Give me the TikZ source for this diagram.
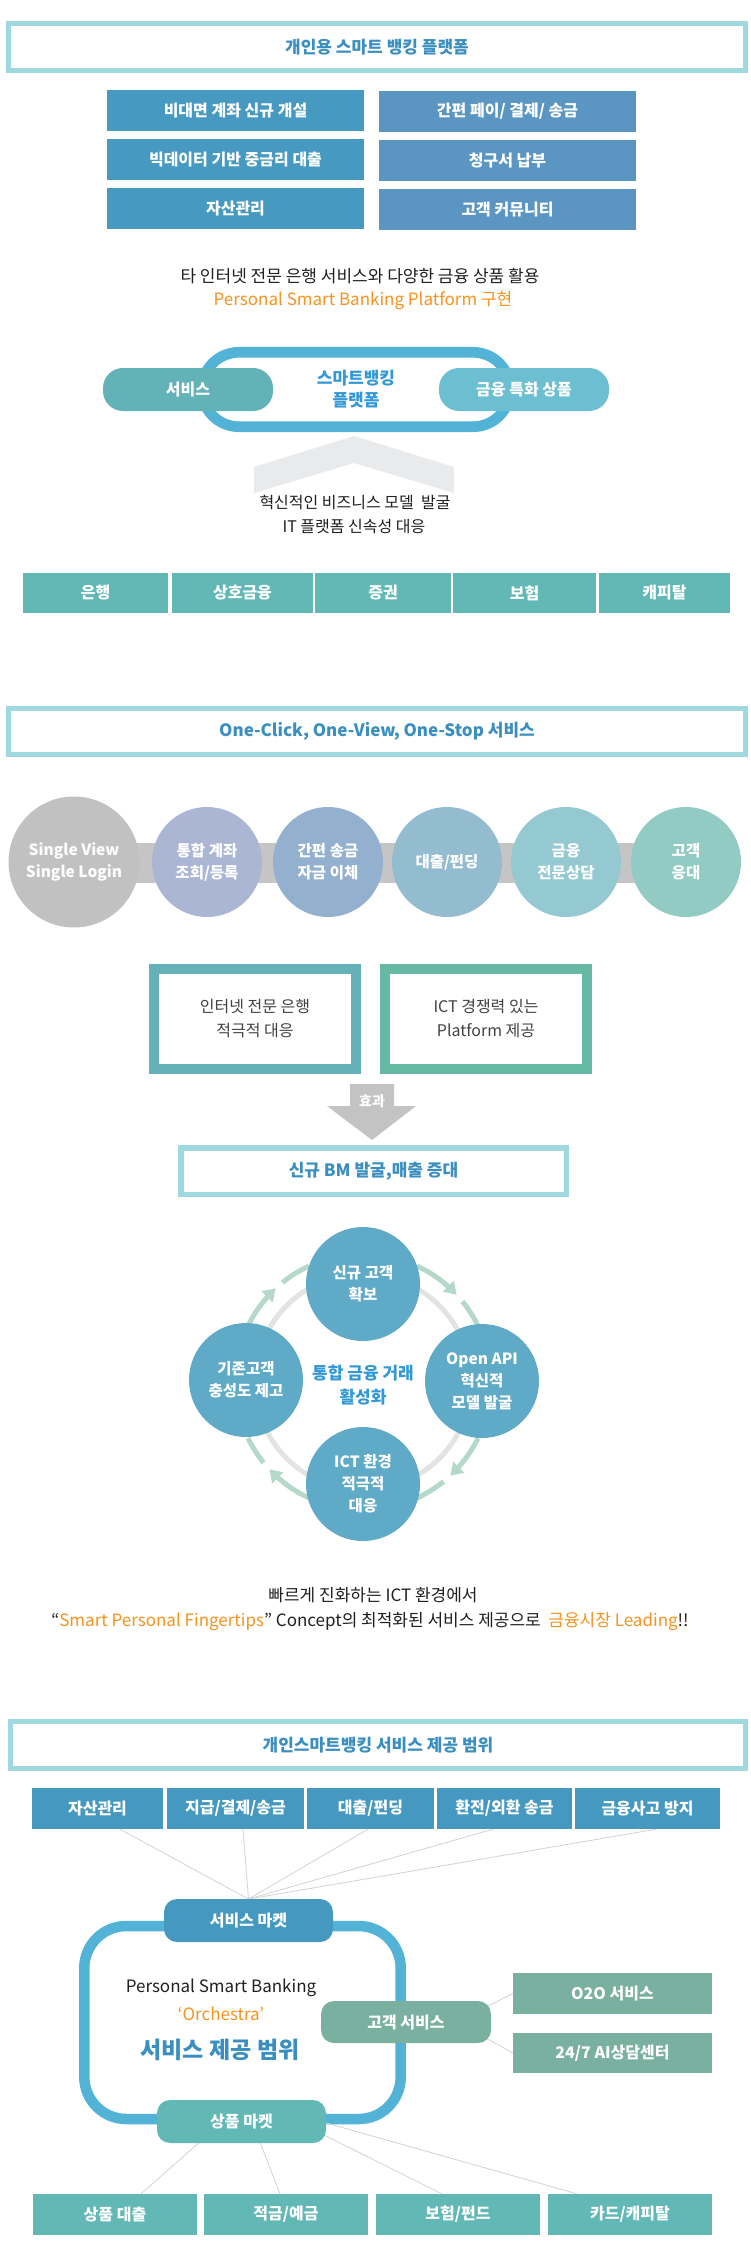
\documentclass[tikz,border=0pt]{standalone}
\usepackage{fontspec}
\setmainfont{Noto Sans CJK KR}
\usetikzlibrary{arrows.meta,calc}
\definecolor{tborder}{HTML}{9FD9DF}
\definecolor{ttext}{HTML}{3B8FC0}
\definecolor{boxA}{HTML}{4699C0}
\definecolor{boxB}{HTML}{5B96C3}
\definecolor{orng}{HTML}{F7931E}
\definecolor{ringc}{HTML}{53B3D6}
\definecolor{pillA}{HTML}{63B2B8}
\definecolor{pillB}{HTML}{6CBFD1}
\definecolor{chev}{HTML}{E9EAEC}
\definecolor{tealc}{HTML}{62B8B5}
\definecolor{cA}{HTML}{C1C1C1}
\definecolor{cB}{HTML}{AAB6D3}
\definecolor{cC}{HTML}{93B1CF}
\definecolor{cD}{HTML}{93BCD0}
\definecolor{cE}{HTML}{94C9D2}
\definecolor{cF}{HTML}{91CBC3}
\definecolor{barc}{HTML}{C5C5C5}
\definecolor{frA}{HTML}{64B1B8}
\definecolor{frB}{HTML}{65B9A5}
\definecolor{arrc}{HTML}{C3C3C3}
\definecolor{cyc}{HTML}{5FAAC7}
\definecolor{grn}{HTML}{B4D9C8}
\definecolor{gring}{HTML}{E3E3E3}
\definecolor{ctext}{HTML}{3399D6}
\definecolor{sage}{HTML}{7AB0A0}
\definecolor{dark}{HTML}{231F20}
\definecolor{lnc}{HTML}{D3D3D3}
\definecolor{svcb}{HTML}{4599C1}
\begin{document}
\begin{tikzpicture}[x=1pt,y=-1pt,
  titlebox/.style={draw=tborder, line width=5pt, fill=white, inner sep=0pt, text=ttext, font=\fontsize{17}{20}\selectfont\bfseries},
  cell/.style={fill=#1, inner sep=0pt, text=white, font=\fontsize{16}{20}\selectfont\bfseries},
  pill/.style={fill=#1, rounded corners=20pt, inner sep=0pt, text=white, font=\fontsize{16}{20}\selectfont\bfseries},
  mpill/.style={fill=#1, rounded corners=13pt, inner sep=0pt, text=white, font=\fontsize{16}{20}\selectfont\bfseries},
  circ/.style={circle, fill=#1, inner sep=0pt, text=white, align=center, font=\fontsize{15.5}{22}\selectfont\bfseries},
  plain/.style={text=dark, inner sep=0pt, font=\fontsize{17}{20}\selectfont},
  frame/.style={draw=#1, line width=10pt, fill=white, inner sep=0pt, align=center, text=dark!85, font=\fontsize{16}{24}\selectfont, minimum width=202pt, minimum height=100pt},
  conn/.style={draw=lnc, line width=0.8pt},
  garc/.style={draw=grn, line width=5pt},
  garrow/.style={draw=grn, line width=5pt, -{Triangle[length=12pt,width=15pt]}}
]
\useasboundingbox (0,0) rectangle (750,2266);
\fill[white] (0,0) rectangle (750,2266);

% ---------------- Section 1 ----------------
\node[titlebox, minimum width=737pt, minimum height=47pt] (t1) at (377,47) {개인용 스마트 뱅킹 플랫폼};

\node[cell=boxA, minimum width=257pt, minimum height=41pt] (a1) at (235.5,110.5) {비대면 계좌 신규 개설};
\node[cell=boxA, minimum width=257pt, minimum height=41pt] (a2) at (235.5,159.5) {빅데이터 기반 중금리 대출};
\node[cell=boxA, minimum width=257pt, minimum height=41pt] (a3) at (235.5,208.5) {자산관리};
\node[cell=boxB, minimum width=257pt, minimum height=41pt] (b1) at (507.5,111.5) {간편 페이/ 결제/ 송금};
\node[cell=boxB, minimum width=257pt, minimum height=41pt] (b2) at (507.5,160.5) {청구서 납부};
\node[cell=boxB, minimum width=257pt, minimum height=41pt] (b3) at (507.5,209.5) {고객 커뮤니티};

\node[plain] (s1) at (360,276) {타 인터넷 전문 은행 서비스와 다양한 금융 상품 활용};
\node[plain, text=orng] (s2) at (363,301) {Personal Smart Banking Platform 구현};

\node[draw=ringc, line width=10.7pt, minimum width=308.4pt, minimum height=74.4pt, rounded corners=37.2pt, inner sep=0pt, align=center, text=ctext, font=\fontsize{17}{22}\selectfont\bfseries] (ring) at (356,389.5) {스마트뱅킹\\플랫폼};
\node[pill=pillA, minimum width=170pt, minimum height=43pt] (p1) at (188,389.5) {서비스};
\node[pill=pillB, minimum width=170pt, minimum height=43pt] (p2) at (524,389.5) {금융 특화 상품};

\fill[chev] (254,467) -- (354,436) -- (454,467) -- (454,493) -- (354,463) -- (254,493) -- cycle;
\node[plain, font=\fontsize{16}{20}\selectfont] (s3) at (355,502) {혁신적인 비즈니스 모델\ \ 발굴};
\node[plain, font=\fontsize{16}{20}\selectfont] (s4) at (354,527) {IT 플랫폼 신속성 대응};

\node[cell=tealc, minimum width=145pt, minimum height=40pt] (r1) at (95.5,593) {은행};
\node[cell=tealc, minimum width=141pt, minimum height=40pt] (r2) at (242.5,593) {상호금융};
\node[cell=tealc, minimum width=136pt, minimum height=40pt] (r3) at (383,593) {증권};
\node[cell=tealc, minimum width=143pt, minimum height=40pt] (r4) at (524.5,593) {보험};
\node[cell=tealc, minimum width=131pt, minimum height=40pt] (r5) at (664.5,593) {캐피탈};

% ---------------- Section 2 ----------------
\node[titlebox, minimum width=737pt, minimum height=46pt] (t2) at (377,731.5) {One-Click, One-View, One-Stop 서비스};

\fill[barc] (74,843) rectangle (686,883);
\node[circ=cA, minimum size=131pt] (o1) at (74,862) {Single View\\Single Login};
\node[circ=cB, minimum size=110pt] (o2) at (207,862) {통합 계좌\\조회/등록};
\node[circ=cC, minimum size=110pt] (o3) at (328,862) {간편 송금\\자금 이체};
\node[circ=cD, minimum size=110pt] (o4) at (447,862) {대출/펀딩};
\node[circ=cE, minimum size=110pt] (o5) at (566,862) {금융\\전문상담};
\node[circ=cF, minimum size=110pt] (o6) at (686,862) {고객\\응대};

\node[frame=frA] (f1) at (255,1019) {인터넷 전문 은행\\적극적 대응};
\node[frame=frB] (f2) at (486,1019) {ICT 경쟁력 있는\\Platform 제공};

\fill[arrc] (350,1084) -- (394,1084) -- (394,1106) -- (416,1106) -- (372,1140) -- (327,1106) -- (350,1106) -- cycle;
\node[text=white, inner sep=0pt, font=\fontsize{14}{16}\selectfont\bfseries] (eff) at (372,1101) {효과};

\node[titlebox, line width=5.5pt, minimum width=385.5pt, minimum height=46.5pt] (res) at (373.5,1171) {신규 BM 발굴,매출 증대};

% cycle
\draw[gring, line width=5pt] (363,1382) circle[radius=108];
\foreach \a/\b/\c/\d in {-65/-43/-39/-26, 26/47/51/65, 115/137/141/154, 206/227/231/245}{
  \draw[garrow] plot[smooth, samples=6, domain=\a:\b, variable=\t] ({363+128*cos(\t)},{1382+128*sin(\t)});
  \draw[garc] plot[smooth, samples=5, domain=\c:\d, variable=\t] ({363+128*cos(\t)},{1382+128*sin(\t)});
}
\node[circ=cyc, minimum size=114pt] (cyT) at (363,1284) {신규 고객\\확보};
\node[circ=cyc, minimum size=114pt] (cyR) at (482,1381) {Open API\\혁신적\\모델 발굴};
\node[circ=cyc, minimum size=114pt] (cyB) at (363,1484) {ICT 환경\\적극적\\대응};
\node[circ=cyc, minimum size=114pt] (cyL) at (246,1380) {기존고객\\충성도 제고};
\node[text=ctext, inner sep=0pt, align=center, font=\fontsize{17}{24}\selectfont\bfseries] (cyC) at (363,1385) {통합 금융 거래\\활성화};

\node[plain] (s5) at (373,1595) {빠르게 진화하는 ICT 환경에서};
\node[plain] (s6) at (370,1622) {“{\color{orng}Smart Personal Fingertips}” Concept의 최적화된 서비스 제공으로\ \ {\color{orng}금융시장 Leading}!!};

% ---------------- Section 3 ----------------
\node[titlebox, minimum width=735pt, minimum height=47pt] (t3) at (378,1745) {개인스마트뱅킹 서비스 제공 범위};

\node[cell=svcb, minimum width=131pt, minimum height=41pt] (d1) at (97.5,1808.5) {자산관리};
\node[cell=svcb, minimum width=137pt, minimum height=41pt] (d2) at (235.5,1808.5) {지급/결제/송금};
\node[cell=svcb, minimum width=127pt, minimum height=41pt] (d3) at (370.5,1808.5) {대출/펀딩};
\node[cell=svcb, minimum width=135pt, minimum height=41pt] (d4) at (504.5,1808.5) {환전/외환 송금};
\node[cell=svcb, minimum width=145pt, minimum height=41pt] (d5) at (647.5,1808.5) {금융사고 방지};

\coordinate (svcTop) at (248.5,1899);
\draw[conn] ([xshift=22.5pt]d1.south) -- (svcTop);
\draw[conn] ([xshift=7.5pt]d2.south) -- (svcTop);
\draw[conn] ([xshift=-2.5pt]d3.south) -- (svcTop);
\draw[conn] ([xshift=-11.5pt]d4.south) -- (svcTop);
\draw[conn] ([xshift=8.5pt]d5.south) -- (svcTop);

\draw[ringc, line width=10.5pt, rounded corners=42pt] (84.3,1926) rectangle (400.7,2119);

\node[text=dark, inner sep=0pt, font=\fontsize{17}{20}\selectfont] (ps) at (221,1988) {Personal Smart Banking};
\node[text=orng, inner sep=0pt, font=\fontsize{17}{20}\selectfont] (orc) at (221,2014) {‘Orchestra’};
\node[text=ttext, inner sep=0pt, font=\fontsize{23}{26}\selectfont\bfseries] (scope3) at (220,2050) {서비스 제공 범위};

\node[mpill=svcb, minimum width=169pt, minimum height=43pt] (svc) at (248.5,1920.5) {서비스 마켓};

\node[cell=sage, minimum width=199pt, minimum height=41pt] (o2o) at (612.5,1993.5) {O2O 서비스};
\node[cell=sage, minimum width=199pt, minimum height=40pt] (ai) at (612.5,2053) {24/7 AI상담센터};
\coordinate (csU) at (486,2007);
\coordinate (csD) at (486,2038);
\draw[conn] (csU) -- (o2o.west);
\draw[conn] (csD) -- (ai.west);
\node[mpill=sage, minimum width=170pt, minimum height=42pt] (cs) at (406,2022) {고객 서비스};

\node[cell=tealc, minimum width=164pt, minimum height=41pt] (e1) at (115,2214.5) {상품 대출};
\node[cell=tealc, minimum width=164pt, minimum height=41pt] (e2) at (286,2214.5) {적금/예금};
\node[cell=tealc, minimum width=164pt, minimum height=41pt] (e3) at (458,2214.5) {보험/펀드};
\node[cell=tealc, minimum width=164pt, minimum height=41pt] (e4) at (630,2214.5) {카드/캐피탈};

\coordinate (pmc) at (241.5,2121.5);
\draw[conn] ([xshift=-18.5pt]pmc) -- ([xshift=26pt]e1.north);
\draw[conn] ([xshift=10.5pt]pmc) -- ([xshift=-6pt]e2.north);
\draw[conn] ([xshift=55.5pt]pmc) -- ([xshift=-16pt]e3.north);
\draw[conn] ([xshift=79.5pt]pmc) -- ([xshift=-53pt]e4.north);
\node[mpill=tealc, minimum width=169pt, minimum height=43pt] (pm) at (241.5,2121.5) {상품 마켓};
\end{tikzpicture}
\end{document}
